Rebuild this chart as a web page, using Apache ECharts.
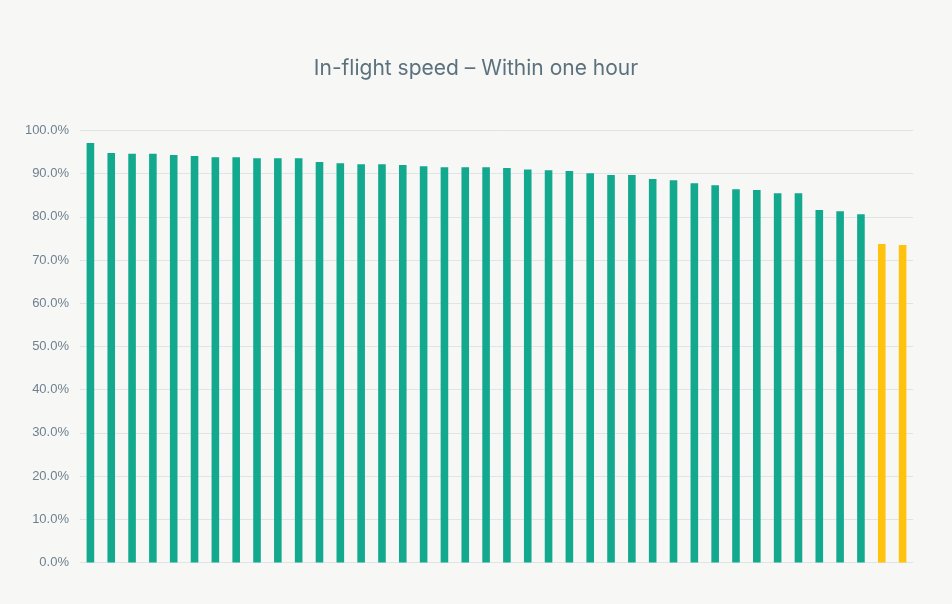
<!DOCTYPE html>
<html>
<head>
<meta charset="utf-8">
<script src="https://cdn.jsdelivr.net/npm/echarts@6/dist/echarts.min.js"></script>
<style>
html,body{margin:0;padding:0;background:#f7f7f5;}
#chart{width:952px;height:604px;}
</style>
</head>
<body>
<div id="chart"></div>
<script>
const categories = Array.from({length: 40}, (_, i) => 'Item ' + (i + 1));
const values = [97.1, 94.8, 94.6, 94.6, 94.3, 94.1, 93.8, 93.8, 93.6, 93.6,
  93.6, 92.7, 92.4, 92.2, 92.2, 92.0, 91.7, 91.5, 91.5, 91.5,
  91.3, 91.0, 90.8, 90.6, 90.1, 89.7, 89.7, 88.8, 88.5, 87.8,
  87.3, 86.4, 86.2, 85.5, 85.5, 81.6, 81.3, 80.6, 73.7, 73.5];
const highlighted = [38, 39];
const yTicks = [0, 10, 20, 30, 40, 50, 60, 70, 80, 90, 100];

const green = '#13a98f';
const yellow = '#ffc20e';

const chart = echarts.init(document.getElementById('chart'));
chart.setOption({
  backgroundColor: '#f7f7f5',
  animation: false,
  title: {
    text: 'In-flight speed \u2013 Within one hour',
    left: 'center',
    top: 53,
    textStyle: {
      fontFamily: 'Inter, "Noto Sans", sans-serif',
      fontSize: 21,
      fontWeight: 'normal',
      color: '#5b717d'
    }
  },
  grid: {left: 80, right: 39, top: 130.5, bottom: 41.5},
  xAxis: {
    type: 'category',
    data: categories,
    axisLine: {show: false},
    axisTick: {show: false},
    axisLabel: {show: false}
  },
  yAxis: {
    type: 'value',
    min: yTicks[0],
    max: yTicks[yTicks.length - 1],
    interval: 10,
    axisLine: {show: false},
    axisTick: {show: false},
    axisLabel: {
      formatter: v => v.toFixed(1) + '%',
      color: '#6f8190',
      fontSize: 13,
      margin: 11,
      fontFamily: '"Liberation Sans", Arial, sans-serif'
    },
    splitLine: {lineStyle: {color: '#dfe5e6', width: 1}}
  },
  series: [{
    type: 'bar',
    barWidth: 7.6,
    data: values.map((v, i) => ({
      value: v,
      itemStyle: {color: highlighted.includes(i) ? yellow : green}
    }))
  }]
});
</script>
</body>
</html>
